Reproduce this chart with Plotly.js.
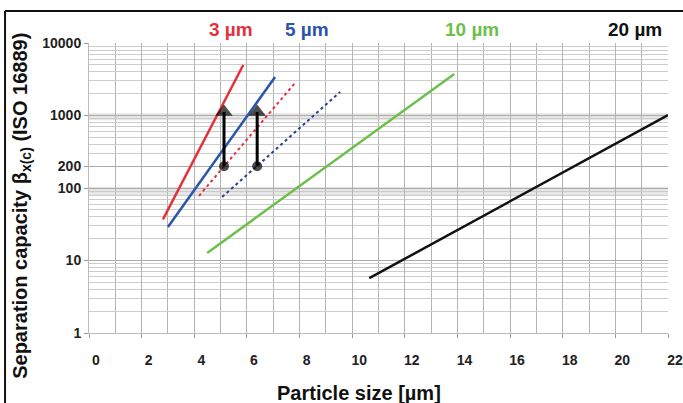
<!DOCTYPE html>
<html>
<head>
<meta charset="utf-8">
<script src="https://cdn.plot.ly/plotly-3.0.1.min.js"></script>
<style>html,body{margin:0;padding:0;background:#fff;}#chart{width:683px;height:403px;}</style>
</head>
<body>
<div id="chart"></div>
<script>
// Particle size [µm] and separation capacity (log scale)
const red3X = [2.81, 5.86];
const red3Y = [37, 4970];
const blue5X = [3.0, 7.07];
const blue5Y = [29, 3400];
const red3DotX = [4.18, 7.83];
const red3DotY = [78, 2810];
const blue5DotX = [5.06, 9.54];
const blue5DotY = [75, 2110];
const green10X = [4.49, 13.88];
const green10Y = [12.7, 3735];
const black20X = [10.65, 22.0];
const black20Y = [5.7, 1016];
const arrow1X = [5.13, 5.13];
const arrow2X = [6.39, 6.39];
const arrowY = [200, 1120];
const yTickVals = [1, 10, 100, 200, 1000, 10000];
const yTickText = ['1', '10', '100', '200', '1000', '10000'];
const xTickVals = [0, 2, 4, 6, 8, 10, 12, 14, 16, 18, 20, 22];
const seriesLabels = ['3 µm', '5 µm', '10 µm', '20 µm'];

const FONT = 'Liberation Sans, Arial, sans-serif';

const arrowMarker = {symbol: ['circle', 'triangle-up'], size: [10, 15], color: '#000', line: {width: 0}};
const traces = [
  {x: red3X, y: red3Y, mode: 'lines', line: {color: '#e3323a', width: 2.5}},
  {x: blue5X, y: blue5Y, mode: 'lines', line: {color: '#2a55a8', width: 2.5}},
  {x: red3DotX, y: red3DotY, mode: 'lines', line: {color: '#e3323a', width: 2, dash: 'dot'}},
  {x: blue5DotX, y: blue5DotY, mode: 'lines', line: {color: '#2a3f95', width: 2, dash: 'dot'}},
  {x: green10X, y: green10Y, mode: 'lines', line: {color: '#6cc04a', width: 2.5}},
  {x: black20X, y: black20Y, mode: 'lines', line: {color: '#111', width: 2.5}},
  {x: arrow1X, y: arrowY, mode: 'lines+markers', line: {color: '#000', width: 3}, marker: arrowMarker},
  {x: arrow2X, y: arrowY, mode: 'lines+markers', line: {color: '#000', width: 3}, marker: arrowMarker}
];

const labelColors = ['#e3323a', '#2a55a8', '#6cc04a', '#111'];
const labelPos = [0.245, 0.377, 0.661, 0.943];
const annotations = seriesLabels.map((t, i) => ({
  text: '<b>' + t + '</b>', xref: 'paper', yref: 'paper', x: labelPos[i], y: 1.045,
  showarrow: false, xanchor: 'center', yanchor: 'middle',
  font: {family: FONT, size: 19, color: labelColors[i]}
}));
annotations.push({
  text: '<b>Particle size [µm]</b>', xref: 'paper', yref: 'paper', x: 0.466, y: -0.207,
  showarrow: false, xanchor: 'center', yanchor: 'middle',
  font: {family: FONT, size: 20, color: '#111'}
});
annotations.push({
  text: '<b>Separation capacity β<sub>x(c)</sub> (ISO 16889)</b>', xref: 'paper', yref: 'paper',
  x: -0.116, y: 0.438, textangle: -90,
  showarrow: false, xanchor: 'center', yanchor: 'middle',
  font: {family: FONT, size: 20, color: '#111'}
});

const layout = {
  width: 683, height: 403,
  margin: {l: 89, r: 15, t: 43, b: 70},
  paper_bgcolor: '#fff', plot_bgcolor: '#fff',
  showlegend: false,
  font: {family: FONT, color: '#222'},
  xaxis: {
    range: [0, 22], tickvals: xTickVals, ticks: 'outside', ticklen: 4, tickcolor: '#999',
    ticklabelshift: 7, ticklabelstandoff: 10,
    tickfont: {size: 14, color: '#222', weight: 'bold'},
    showgrid: true, gridcolor: '#b4b4b4', gridwidth: 1,
    minor: {dtick: 1, showgrid: true, gridcolor: '#b4b4b4'},
    zeroline: false, showline: true, linecolor: '#bbb'
  },
  yaxis: {
    type: 'log', range: [0, 4], tickvals: yTickVals, ticktext: yTickText,
    ticks: 'outside', ticklen: 4, tickcolor: '#999',
    tickfont: {size: 14, color: '#222', weight: 'bold'},
    showgrid: true, gridcolor: '#aaa', gridwidth: 1,
    minor: {dtick: 'D1', showgrid: true, gridcolor: '#ccc'},
    zeroline: false, showline: true, linecolor: '#bbb'
  },
  shapes: [
    {type: 'rect', xref: 'x', yref: 'y', x0: 0, x1: 22, y0: 860, y1: 1080, fillcolor: '#e6e6e6', line: {width: 0}, layer: 'below'},
    {type: 'rect', xref: 'x', yref: 'y', x0: 0, x1: 22, y0: 80, y1: 104, fillcolor: '#e6e6e6', line: {width: 0}, layer: 'below'},
    {type: 'line', xref: 'paper', yref: 'paper', x0: -0.145, x1: 1.03, y0: 1.11, y1: 1.11, line: {color: '#111', width: 2}},
    {type: 'line', xref: 'paper', yref: 'paper', x0: -0.145, x1: -0.145, y0: 1.11, y1: -0.3, line: {color: '#111', width: 2}}
  ],
  annotations: annotations
};

Plotly.newPlot('chart', traces, layout, {displayModeBar: false, staticPlot: true});
</script>
</body>
</html>
